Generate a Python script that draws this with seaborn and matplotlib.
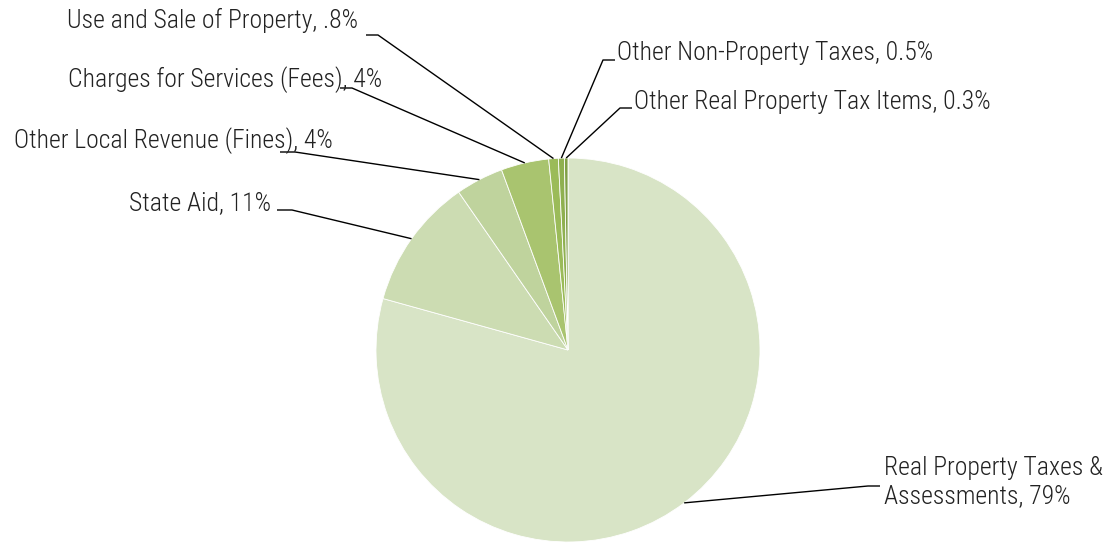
import numpy as np
import matplotlib
matplotlib.use("Agg")
import matplotlib.pyplot as plt
import seaborn as sns
from matplotlib import font_manager

categories = ["Real Property Taxes &\nAssessments", "State Aid", "Other Local Revenue (Fines)",
              "Charges for Services (Fees)", "Use and Sale of Property",
              "Other Non-Property Taxes", "Other Real Property Tax Items"]
values = [79, 11, 4, 4, 0.8, 0.5, 0.3]
value_labels = ["79%", "11%", "4%", "4%", ".8%", "0.5%", "0.3%"]
colors = ["#D8E4C6", "#CCDCB2", "#BFD39D", "#A9C46F", "#9BBB59", "#8FB050", "#7FA046"]

sns.set_theme(style="white")
names = {f.name for f in font_manager.fontManager.ttflist}
fam = [f for f in ["Liberation Sans Narrow", "Roboto Condensed", "Liberation Sans", "DejaVu Sans"] if f in names]
plt.rcParams["font.family"] = fam

W, H = 1109, 544
fig = plt.figure(figsize=(W / 100, H / 100), dpi=100)
ax = fig.add_axes([0, 0, 1, 1])

cx, cy, r = 568, H - 350, 192
wedges, _ = ax.pie(values, colors=colors, startangle=90, counterclock=False,
                   center=(cx, cy), radius=r, frame=True,
                   wedgeprops=dict(linewidth=0.6, edgecolor="white"))
ax.set_xlim(0, W)
ax.set_ylim(0, H)
ax.set_aspect("equal")
ax.axis("off")

# label layout: (text x, text y (image px), ha, elbow x, line start x)
layout = [
    (884, 482, "left", 868, 880),
    (271, 203, "right", 292, 277),
    (333, 141, "right", 295, 280),
    (382, 80, "right", 352, 340),
    (358, 20, "right", 378, 366),
    (617, 53, "left", 603, 615),
    (634, 102, "left", 620, 632),
]
line_y = [486, 210, 152, 88, 35, 60, 108]

for w, cat, vl, (tx, ty, ha, ex, sx), ly in zip(wedges, categories, value_labels, layout, line_y):
    ang = np.deg2rad((w.theta1 + w.theta2) / 2)
    px, py = cx + r * np.cos(ang), cy + r * np.sin(ang)
    ax.plot([sx, ex, px], [H - ly, H - ly, py], color="black", lw=1.0, solid_capstyle="butt")
    ax.text(tx, H - ty, f"{cat}, {vl}", ha=ha, va="center", fontsize=18.5,
            fontweight="light", color="#222222", linespacing=1.2)

fig.savefig("out.png", dpi=100, facecolor="white")
